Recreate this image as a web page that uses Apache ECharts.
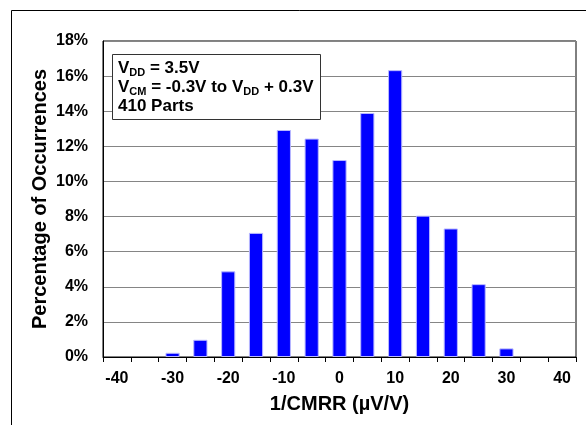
<!DOCTYPE html>
<html>
<head>
<meta charset="utf-8">
<script src="https://cdn.jsdelivr.net/npm/echarts@6/dist/echarts.min.js"></script>
<style>
  html, body { margin: 0; padding: 0; background: #fff; }
  #chart { width: 586px; height: 425px; }
</style>
</head>
<body>
<div id="chart"></div>
<script>
// bins of 1/CMRR, uV/V
var categories = ['-40', '-35', '-30', '-25', '-20', '-15', '-10', '-5', '0', '5', '10', '15', '20', '25', '30', '35', '40'];
// percentage of occurrences (410 parts)
var percents = [null, null, 0.24, 0.98, 4.88, 7.07, 12.93, 12.44, 11.22, 13.90, 16.34, 8.05, 7.32, 4.15, 0.49, null, null];
var yTicks = { min: 0, max: 18, interval: 2 };

var FONT = '"Liberation Sans", Arial, sans-serif';

var chart = echarts.init(document.getElementById('chart'), null, { renderer: 'canvas' });

var option = {
    animation: false,
    backgroundColor: '#fff',
    grid: {
        left: 103,
        right: 10,
        top: 41,
        bottom: 68,
        show: true,
        borderColor: '#000',
        borderWidth: 1
    },
    xAxis: {
        type: 'category',
        data: categories,
        boundaryGap: true,
        name: '1/CMRR (µV/V)',
        nameLocation: 'middle',
        nameGap: 37,
        nameMoveOverlap: false,
        nameTextStyle: { fontFamily: FONT, fontWeight: 'bold', fontSize: 20, color: '#000' },
        axisLine: { lineStyle: { color: '#000', width: 1 } },
        axisTick: { show: true, interval: 0, length: 5, lineStyle: { color: '#000' } },
        axisLabel: {
            interval: 1,
            margin: 14,
            fontFamily: FONT,
            fontWeight: 'bold',
            fontSize: 16,
            color: '#000'
        },
        splitLine: { show: false }
    },
    yAxis: {
        type: 'value',
        min: yTicks.min,
        max: yTicks.max,
        interval: yTicks.interval,
        name: 'Percentage of Occurrences',
        nameLocation: 'middle',
        nameGap: 53,
        nameMoveOverlap: false,
        nameTextStyle: { fontFamily: FONT, fontWeight: 'bold', fontSize: 20, color: '#000' },
        axisLine: { show: true, lineStyle: { color: '#000' } },
        axisTick: { show: false },
        axisLabel: {
            formatter: '{value}%',
            margin: 15,
            fontFamily: FONT,
            fontWeight: 'bold',
            fontSize: 16,
            color: '#000'
        },
        splitLine: { show: true, lineStyle: { color: '#858585', width: 1 } }
    },
    series: [{
        type: 'bar',
        data: percents,
        barWidth: '51%',
        itemStyle: {
            color: '#0000ff',
            borderColor: '#b8b8ff',
            borderWidth: 1
        }
    }],
    graphic: [
        {
            type: 'rect',
            silent: true,
            shape: { x: 11.5, y: 10.5, width: 700, height: 600 },
            style: { fill: 'none', stroke: '#000', lineWidth: 1 },
            z: -10
        },
        {
            type: 'rect',
            silent: true,
            shape: { x: 112.5, y: 54.5, width: 208, height: 65 },
            style: { fill: '#fff', stroke: '#333', lineWidth: 1 },
            z: 100
        },
        {
            type: 'text',
            silent: true,
            left: 118,
            top: 59,
            z: 101,
            style: {
                text: 'V{sub|DD} = 3.5V\nV{sub|CM} = -0.3V to V{sub|DD} + 0.3V\n410 Parts',
                fontFamily: FONT,
                fontWeight: 'bold',
                fontSize: 17,
                lineHeight: 19,
                fill: '#000',
                rich: {
                    sub: {
                        fontFamily: FONT,
                        fontWeight: 'bold',
                        fontSize: 11,
                        lineHeight: 12,
                        verticalAlign: 'bottom',
                        fill: '#000'
                    }
                }
            }
        }
    ]
};

chart.setOption(option);
</script>
</body>
</html>
